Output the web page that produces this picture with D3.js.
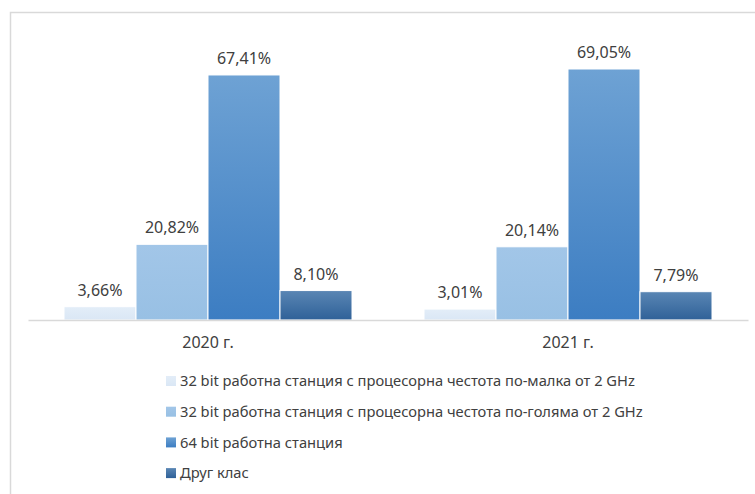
<!DOCTYPE html>
<meta charset="utf-8">
<script src="https://d3js.org/d3.v7.min.js"></script>
<style>
body { margin: 0; background: #fff; }
text { font-family: "Noto Sans", "Open Sans", sans-serif; fill: #404040; }
</style>
<body>
<div id="chart"></div>
<script>
var years = ["2020 г.", "2021 г."];
var seriesNames = [
  "32 bit работна станция с процесорна честота по-малка от 2 GHz",
  "32 bit работна станция с процесорна честота по-голяма от 2 GHz",
  "64 bit работна станция",
  "Друг клас"
];
var values2020 = [3.66, 20.82, 67.41, 8.10];
var values2021 = [3.01, 20.14, 69.05, 7.79];
var topColors = ["#e3edf8", "#a2c6e8", "#6ea2d4", "#5a86b4"];
var bottomColors = ["#dae7f5", "#98c0e4", "#3c7dc2", "#2f6198"];

var width = 755, height = 494;
var svg = d3.select("#chart").append("svg")
  .attr("width", width)
  .attr("height", height);

// outer frame (only left and top edges visible)
svg.append("path")
  .attr("d", "M10.5,494 V12.5 H755")
  .attr("fill", "none")
  .attr("stroke", "#d9d9d9")
  .attr("stroke-width", 1.5);

var defs = svg.append("defs");
topColors.forEach(function(c, i) {
  var g = defs.append("linearGradient").attr("id", "grad" + i)
    .attr("x1", 0).attr("y1", 0).attr("x2", 0).attr("y2", 1);
  g.append("stop").attr("offset", "0%").attr("stop-color", c);
  g.append("stop").attr("offset", "100%").attr("stop-color", bottomColors[i]);
});

var x0 = d3.scaleBand().domain(years).range([28, 748]);
var x1 = d3.scaleBand().domain(d3.range(4));
var y = d3.scaleLinear().domain([0, 80]).range([320, 29.2]);

// bars fill the middle of each category
var groupPad = 36;
x1.range([groupPad, x0.bandwidth() - groupPad]);

var data = [values2020, values2021];

var groups = svg.selectAll(".grp")
  .data(data)
  .enter().append("g")
  .attr("class", "grp")
  .attr("transform", function(d, i) { return "translate(" + x0(years[i]) + ",0)"; });

groups.selectAll("rect")
  .data(function(d) { return d; })
  .enter().append("rect")
  .attr("x", function(d, i) { return x1(i); })
  .attr("width", x1.bandwidth())
  .attr("y", function(d) { return y(d); })
  .attr("height", function(d) { return y(0) - y(d); })
  .attr("fill", function(d, i) { return "url(#grad" + i + ")"; })
  .attr("stroke", "#fff")
  .attr("stroke-width", 1);

groups.selectAll(".lbl")
  .data(function(d) { return d; })
  .enter().append("text")
  .attr("class", "lbl")
  .attr("x", function(d, i) { return x1(i) + x1.bandwidth() / 2; })
  .attr("y", function(d) { return y(d) - 11; })
  .attr("text-anchor", "middle")
  .attr("font-size", 16)
  .text(function(d) { return d.toFixed(2).replace(".", ",") + "%"; });

// category axis
var xAxis = svg.append("g")
  .attr("transform", "translate(0," + y(0) + ")")
  .call(d3.axisBottom(x0).tickSize(0).tickPadding(17));
xAxis.select(".domain").attr("stroke", "#d9d9d9").attr("stroke-width", 1.5);
xAxis.selectAll("text")
  .attr("font-size", 16)
  .attr("font-family", "Noto Sans, Open Sans, sans-serif")
  .attr("fill", "#404040");

// legend
var legend = svg.selectAll(".leg")
  .data(seriesNames)
  .enter().append("g")
  .attr("class", "leg")
  .attr("transform", function(d, i) { return "translate(166," + (381 + i * 30.7) + ")"; });

legend.append("rect")
  .attr("x", 0).attr("y", -5)
  .attr("width", 10).attr("height", 10)
  .attr("fill", function(d, i) { return "url(#grad" + i + ")"; });

legend.append("text")
  .attr("x", 14)
  .attr("dy", "0.35em")
  .attr("font-size", 14.7)
  .text(function(d) { return d; });
</script>
</body>
